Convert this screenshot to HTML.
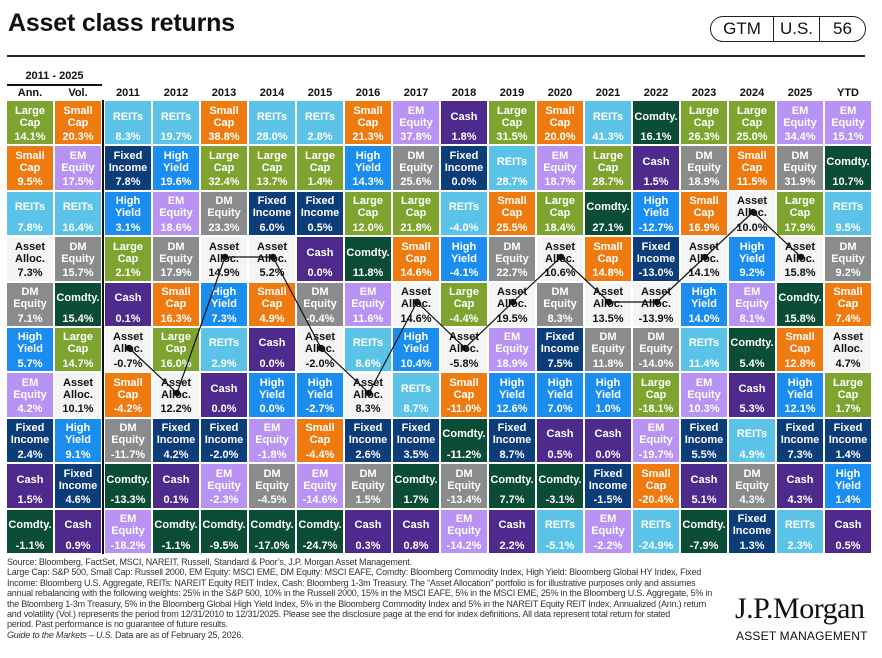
<!DOCTYPE html>
<html><head><meta charset="utf-8"><style>
*{margin:0;padding:0;box-sizing:border-box}
body{width:882px;height:658px;background:#fff;position:relative;overflow:hidden;font-family:"Liberation Sans",Arial,sans-serif;color:#111}
.title{position:absolute;left:8px;top:9px;font-size:25px;font-weight:bold;letter-spacing:-0.2px}
.rule{position:absolute;left:7px;top:55px;width:858px;height:1.5px;background:#222}
.gtm{position:absolute;left:710px;top:16px;width:156px;height:26px;border:1.3px solid #222;border-radius:13px;display:flex;font-size:17px}
.gtm div{display:flex;align-items:center;justify-content:center;height:100%}
.per{position:absolute;left:7px;top:70px;width:95px;text-align:center;font-size:11px;font-weight:bold}
.perl{position:absolute;left:7px;top:84px;width:95px;height:2px;background:#111}
.hdr{position:absolute;top:87px;font-size:11px;font-weight:bold;width:46px;text-align:center}
.vl{position:absolute;left:102px;top:100px;width:2px;height:454px;background:#111}
.g{position:absolute;top:101px;display:grid;grid-auto-flow:column;grid-template-rows:repeat(10,43.4px);grid-template-columns:repeat(var(--n),46px);row-gap:2px;column-gap:2px}
.c{color:#fff;font-size:11px;font-weight:bold;text-align:center;display:flex;flex-direction:column;align-items:center}
.c p{height:30px;display:flex;align-items:center;justify-content:center;line-height:12px;padding-top:1px}
.c span{line-height:12px}
.lc{background:#7ea42f}.sc{background:#ef7a10}.re{background:#5cc3e8}.fi{background:#0b3d7b}.hy{background:#1a8def}.em{background:#b893f3}.dm{background:#8a8b8d}.aa{background:#f4f4f4;color:#111}.ca{background:#4d2a8b}.co{background:#0b4c37}
.foot{position:absolute;left:7px;top:557px;font-size:9px;line-height:10.4px;color:#333;white-space:nowrap;letter-spacing:-0.2px}
.logo{position:absolute;left:735px;top:592px;font-family:"Liberation Serif",serif;font-size:30px;letter-spacing:-0.5px;color:#111}
.am{position:absolute;left:736px;top:629px;font-size:12px;letter-spacing:0.2px;color:#111}
svg{position:absolute;left:0;top:0}
</style></head><body>
<div class="title">Asset class returns</div>
<div class="gtm"><div style="width:63px;border-right:1.3px solid #222">GTM</div><div style="width:46px;border-right:1.3px solid #222">U.S.</div><div style="flex:1">56</div></div>
<div class="rule"></div>
<div class="per">2011 - 2025</div><div class="perl"></div>
<div class="hdr" style="left:7px">Ann.</div><div class="hdr" style="left:55px">Vol.</div>
<div class="hdr" style="left:105px">2011</div><div class="hdr" style="left:153px">2012</div><div class="hdr" style="left:201px">2013</div><div class="hdr" style="left:249px">2014</div><div class="hdr" style="left:297px">2015</div><div class="hdr" style="left:345px">2016</div><div class="hdr" style="left:393px">2017</div><div class="hdr" style="left:441px">2018</div><div class="hdr" style="left:489px">2019</div><div class="hdr" style="left:537px">2020</div><div class="hdr" style="left:585px">2021</div><div class="hdr" style="left:633px">2022</div><div class="hdr" style="left:681px">2023</div><div class="hdr" style="left:729px">2024</div><div class="hdr" style="left:777px">2025</div><div class="hdr" style="left:825px">YTD</div>
<div class="vl"></div>

<div class="g" style="left:7px;--n:2">
<div class="c lc"><p>Large<br>Cap</p><span>14.1%</span></div>
<div class="c sc"><p>Small<br>Cap</p><span>9.5%</span></div>
<div class="c re"><p>REITs</p><span>7.8%</span></div>
<div class="c aa"><p>Asset<br>Alloc.</p><span>7.3%</span></div>
<div class="c dm"><p>DM<br>Equity</p><span>7.1%</span></div>
<div class="c hy"><p>High<br>Yield</p><span>5.7%</span></div>
<div class="c em"><p>EM<br>Equity</p><span>4.2%</span></div>
<div class="c fi"><p>Fixed<br>Income</p><span>2.4%</span></div>
<div class="c ca"><p>Cash</p><span>1.5%</span></div>
<div class="c co"><p>Comdty.</p><span>-1.1%</span></div>

<div class="c sc"><p>Small<br>Cap</p><span>20.3%</span></div>
<div class="c em"><p>EM<br>Equity</p><span>17.5%</span></div>
<div class="c re"><p>REITs</p><span>16.4%</span></div>
<div class="c dm"><p>DM<br>Equity</p><span>15.7%</span></div>
<div class="c co"><p>Comdty.</p><span>15.4%</span></div>
<div class="c lc"><p>Large<br>Cap</p><span>14.7%</span></div>
<div class="c aa"><p>Asset<br>Alloc.</p><span>10.1%</span></div>
<div class="c hy"><p>High<br>Yield</p><span>9.1%</span></div>
<div class="c fi"><p>Fixed<br>Income</p><span>4.6%</span></div>
<div class="c ca"><p>Cash</p><span>0.9%</span></div>
</div>

<div class="g" style="left:105px;--n:16">
<div class="c re"><p>REITs</p><span>8.3%</span></div>
<div class="c fi"><p>Fixed<br>Income</p><span>7.8%</span></div>
<div class="c hy"><p>High<br>Yield</p><span>3.1%</span></div>
<div class="c lc"><p>Large<br>Cap</p><span>2.1%</span></div>
<div class="c ca"><p>Cash</p><span>0.1%</span></div>
<div class="c aa"><p>Asset<br>Alloc.</p><span>-0.7%</span></div>
<div class="c sc"><p>Small<br>Cap</p><span>-4.2%</span></div>
<div class="c dm"><p>DM<br>Equity</p><span>-11.7%</span></div>
<div class="c co"><p>Comdty.</p><span>-13.3%</span></div>
<div class="c em"><p>EM<br>Equity</p><span>-18.2%</span></div>
<div class="c re"><p>REITs</p><span>19.7%</span></div>
<div class="c hy"><p>High<br>Yield</p><span>19.6%</span></div>
<div class="c em"><p>EM<br>Equity</p><span>18.6%</span></div>
<div class="c dm"><p>DM<br>Equity</p><span>17.9%</span></div>
<div class="c sc"><p>Small<br>Cap</p><span>16.3%</span></div>
<div class="c lc"><p>Large<br>Cap</p><span>16.0%</span></div>
<div class="c aa"><p>Asset<br>Alloc.</p><span>12.2%</span></div>
<div class="c fi"><p>Fixed<br>Income</p><span>4.2%</span></div>
<div class="c ca"><p>Cash</p><span>0.1%</span></div>
<div class="c co"><p>Comdty.</p><span>-1.1%</span></div>
<div class="c sc"><p>Small<br>Cap</p><span>38.8%</span></div>
<div class="c lc"><p>Large<br>Cap</p><span>32.4%</span></div>
<div class="c dm"><p>DM<br>Equity</p><span>23.3%</span></div>
<div class="c aa"><p>Asset<br>Alloc.</p><span>14.9%</span></div>
<div class="c hy"><p>High<br>Yield</p><span>7.3%</span></div>
<div class="c re"><p>REITs</p><span>2.9%</span></div>
<div class="c ca"><p>Cash</p><span>0.0%</span></div>
<div class="c fi"><p>Fixed<br>Income</p><span>-2.0%</span></div>
<div class="c em"><p>EM<br>Equity</p><span>-2.3%</span></div>
<div class="c co"><p>Comdty.</p><span>-9.5%</span></div>
<div class="c re"><p>REITs</p><span>28.0%</span></div>
<div class="c lc"><p>Large<br>Cap</p><span>13.7%</span></div>
<div class="c fi"><p>Fixed<br>Income</p><span>6.0%</span></div>
<div class="c aa"><p>Asset<br>Alloc.</p><span>5.2%</span></div>
<div class="c sc"><p>Small<br>Cap</p><span>4.9%</span></div>
<div class="c ca"><p>Cash</p><span>0.0%</span></div>
<div class="c hy"><p>High<br>Yield</p><span>0.0%</span></div>
<div class="c em"><p>EM<br>Equity</p><span>-1.8%</span></div>
<div class="c dm"><p>DM<br>Equity</p><span>-4.5%</span></div>
<div class="c co"><p>Comdty.</p><span>-17.0%</span></div>
<div class="c re"><p>REITs</p><span>2.8%</span></div>
<div class="c lc"><p>Large<br>Cap</p><span>1.4%</span></div>
<div class="c fi"><p>Fixed<br>Income</p><span>0.5%</span></div>
<div class="c ca"><p>Cash</p><span>0.0%</span></div>
<div class="c dm"><p>DM<br>Equity</p><span>-0.4%</span></div>
<div class="c aa"><p>Asset<br>Alloc.</p><span>-2.0%</span></div>
<div class="c hy"><p>High<br>Yield</p><span>-2.7%</span></div>
<div class="c sc"><p>Small<br>Cap</p><span>-4.4%</span></div>
<div class="c em"><p>EM<br>Equity</p><span>-14.6%</span></div>
<div class="c co"><p>Comdty.</p><span>-24.7%</span></div>
<div class="c sc"><p>Small<br>Cap</p><span>21.3%</span></div>
<div class="c hy"><p>High<br>Yield</p><span>14.3%</span></div>
<div class="c lc"><p>Large<br>Cap</p><span>12.0%</span></div>
<div class="c co"><p>Comdty.</p><span>11.8%</span></div>
<div class="c em"><p>EM<br>Equity</p><span>11.6%</span></div>
<div class="c re"><p>REITs</p><span>8.6%</span></div>
<div class="c aa"><p>Asset<br>Alloc.</p><span>8.3%</span></div>
<div class="c fi"><p>Fixed<br>Income</p><span>2.6%</span></div>
<div class="c dm"><p>DM<br>Equity</p><span>1.5%</span></div>
<div class="c ca"><p>Cash</p><span>0.3%</span></div>
<div class="c em"><p>EM<br>Equity</p><span>37.8%</span></div>
<div class="c dm"><p>DM<br>Equity</p><span>25.6%</span></div>
<div class="c lc"><p>Large<br>Cap</p><span>21.8%</span></div>
<div class="c sc"><p>Small<br>Cap</p><span>14.6%</span></div>
<div class="c aa"><p>Asset<br>Alloc.</p><span>14.6%</span></div>
<div class="c hy"><p>High<br>Yield</p><span>10.4%</span></div>
<div class="c re"><p>REITs</p><span>8.7%</span></div>
<div class="c fi"><p>Fixed<br>Income</p><span>3.5%</span></div>
<div class="c co"><p>Comdty.</p><span>1.7%</span></div>
<div class="c ca"><p>Cash</p><span>0.8%</span></div>
<div class="c ca"><p>Cash</p><span>1.8%</span></div>
<div class="c fi"><p>Fixed<br>Income</p><span>0.0%</span></div>
<div class="c re"><p>REITs</p><span>-4.0%</span></div>
<div class="c hy"><p>High<br>Yield</p><span>-4.1%</span></div>
<div class="c lc"><p>Large<br>Cap</p><span>-4.4%</span></div>
<div class="c aa"><p>Asset<br>Alloc.</p><span>-5.8%</span></div>
<div class="c sc"><p>Small<br>Cap</p><span>-11.0%</span></div>
<div class="c co"><p>Comdty.</p><span>-11.2%</span></div>
<div class="c dm"><p>DM<br>Equity</p><span>-13.4%</span></div>
<div class="c em"><p>EM<br>Equity</p><span>-14.2%</span></div>
<div class="c lc"><p>Large<br>Cap</p><span>31.5%</span></div>
<div class="c re"><p>REITs</p><span>28.7%</span></div>
<div class="c sc"><p>Small<br>Cap</p><span>25.5%</span></div>
<div class="c dm"><p>DM<br>Equity</p><span>22.7%</span></div>
<div class="c aa"><p>Asset<br>Alloc.</p><span>19.5%</span></div>
<div class="c em"><p>EM<br>Equity</p><span>18.9%</span></div>
<div class="c hy"><p>High<br>Yield</p><span>12.6%</span></div>
<div class="c fi"><p>Fixed<br>Income</p><span>8.7%</span></div>
<div class="c co"><p>Comdty.</p><span>7.7%</span></div>
<div class="c ca"><p>Cash</p><span>2.2%</span></div>
<div class="c sc"><p>Small<br>Cap</p><span>20.0%</span></div>
<div class="c em"><p>EM<br>Equity</p><span>18.7%</span></div>
<div class="c lc"><p>Large<br>Cap</p><span>18.4%</span></div>
<div class="c aa"><p>Asset<br>Alloc.</p><span>10.6%</span></div>
<div class="c dm"><p>DM<br>Equity</p><span>8.3%</span></div>
<div class="c fi"><p>Fixed<br>Income</p><span>7.5%</span></div>
<div class="c hy"><p>High<br>Yield</p><span>7.0%</span></div>
<div class="c ca"><p>Cash</p><span>0.5%</span></div>
<div class="c co"><p>Comdty.</p><span>-3.1%</span></div>
<div class="c re"><p>REITs</p><span>-5.1%</span></div>
<div class="c re"><p>REITs</p><span>41.3%</span></div>
<div class="c lc"><p>Large<br>Cap</p><span>28.7%</span></div>
<div class="c co"><p>Comdty.</p><span>27.1%</span></div>
<div class="c sc"><p>Small<br>Cap</p><span>14.8%</span></div>
<div class="c aa"><p>Asset<br>Alloc.</p><span>13.5%</span></div>
<div class="c dm"><p>DM<br>Equity</p><span>11.8%</span></div>
<div class="c hy"><p>High<br>Yield</p><span>1.0%</span></div>
<div class="c ca"><p>Cash</p><span>0.0%</span></div>
<div class="c fi"><p>Fixed<br>Income</p><span>-1.5%</span></div>
<div class="c em"><p>EM<br>Equity</p><span>-2.2%</span></div>
<div class="c co"><p>Comdty.</p><span>16.1%</span></div>
<div class="c ca"><p>Cash</p><span>1.5%</span></div>
<div class="c hy"><p>High<br>Yield</p><span>-12.7%</span></div>
<div class="c fi"><p>Fixed<br>Income</p><span>-13.0%</span></div>
<div class="c aa"><p>Asset<br>Alloc.</p><span>-13.9%</span></div>
<div class="c dm"><p>DM<br>Equity</p><span>-14.0%</span></div>
<div class="c lc"><p>Large<br>Cap</p><span>-18.1%</span></div>
<div class="c em"><p>EM<br>Equity</p><span>-19.7%</span></div>
<div class="c sc"><p>Small<br>Cap</p><span>-20.4%</span></div>
<div class="c re"><p>REITs</p><span>-24.9%</span></div>
<div class="c lc"><p>Large<br>Cap</p><span>26.3%</span></div>
<div class="c dm"><p>DM<br>Equity</p><span>18.9%</span></div>
<div class="c sc"><p>Small<br>Cap</p><span>16.9%</span></div>
<div class="c aa"><p>Asset<br>Alloc.</p><span>14.1%</span></div>
<div class="c hy"><p>High<br>Yield</p><span>14.0%</span></div>
<div class="c re"><p>REITs</p><span>11.4%</span></div>
<div class="c em"><p>EM<br>Equity</p><span>10.3%</span></div>
<div class="c fi"><p>Fixed<br>Income</p><span>5.5%</span></div>
<div class="c ca"><p>Cash</p><span>5.1%</span></div>
<div class="c co"><p>Comdty.</p><span>-7.9%</span></div>
<div class="c lc"><p>Large<br>Cap</p><span>25.0%</span></div>
<div class="c sc"><p>Small<br>Cap</p><span>11.5%</span></div>
<div class="c aa"><p>Asset<br>Alloc.</p><span>10.0%</span></div>
<div class="c hy"><p>High<br>Yield</p><span>9.2%</span></div>
<div class="c em"><p>EM<br>Equity</p><span>8.1%</span></div>
<div class="c co"><p>Comdty.</p><span>5.4%</span></div>
<div class="c ca"><p>Cash</p><span>5.3%</span></div>
<div class="c re"><p>REITs</p><span>4.9%</span></div>
<div class="c dm"><p>DM<br>Equity</p><span>4.3%</span></div>
<div class="c fi"><p>Fixed<br>Income</p><span>1.3%</span></div>
<div class="c em"><p>EM<br>Equity</p><span>34.4%</span></div>
<div class="c dm"><p>DM<br>Equity</p><span>31.9%</span></div>
<div class="c lc"><p>Large<br>Cap</p><span>17.9%</span></div>
<div class="c aa"><p>Asset<br>Alloc.</p><span>15.8%</span></div>
<div class="c co"><p>Comdty.</p><span>15.8%</span></div>
<div class="c sc"><p>Small<br>Cap</p><span>12.8%</span></div>
<div class="c hy"><p>High<br>Yield</p><span>12.1%</span></div>
<div class="c fi"><p>Fixed<br>Income</p><span>7.3%</span></div>
<div class="c ca"><p>Cash</p><span>4.3%</span></div>
<div class="c re"><p>REITs</p><span>2.3%</span></div>
<div class="c em"><p>EM<br>Equity</p><span>15.1%</span></div>
<div class="c co"><p>Comdty.</p><span>10.7%</span></div>
<div class="c re"><p>REITs</p><span>9.5%</span></div>
<div class="c dm"><p>DM<br>Equity</p><span>9.2%</span></div>
<div class="c sc"><p>Small<br>Cap</p><span>7.4%</span></div>
<div class="c aa"><p>Asset<br>Alloc.</p><span>4.7%</span></div>
<div class="c lc"><p>Large<br>Cap</p><span>1.7%</span></div>
<div class="c fi"><p>Fixed<br>Income</p><span>1.4%</span></div>
<div class="c hy"><p>High<br>Yield</p><span>1.4%</span></div>
<div class="c ca"><p>Cash</p><span>0.5%</span></div>
</div>

<svg width="882" height="658">
<polyline fill="none" stroke="#111" stroke-width="1.2" points="129,348 177,393 225,257 273,257 321,348 369,393 417,302 465,348 513,302 561,257 609,302 657,302 705,257 753,212 801,257"/>
<g fill="#111">
<circle cx="129" cy="348" r="3.3"/><circle cx="177" cy="393" r="3.3"/><circle cx="225" cy="257" r="3.3"/><circle cx="273" cy="257" r="3.3"/><circle cx="321" cy="348" r="3.3"/><circle cx="369" cy="393" r="3.3"/><circle cx="417" cy="302" r="3.3"/><circle cx="465" cy="348" r="3.3"/><circle cx="513" cy="302" r="3.3"/><circle cx="561" cy="257" r="3.3"/><circle cx="609" cy="302" r="3.3"/><circle cx="657" cy="302" r="3.3"/><circle cx="705" cy="257" r="3.3"/><circle cx="753" cy="212" r="3.3"/><circle cx="801" cy="257" r="3.3"/>
</g>
</svg>

<div class="foot">Source: Bloomberg, FactSet, MSCI, NAREIT, Russell, Standard &amp; Poor’s, J.P. Morgan Asset Management.<br>
Large Cap: S&amp;P 500, Small Cap: Russell 2000, EM Equity: MSCI EME, DM Equity: MSCI EAFE, Comdty: Bloomberg Commodity Index, High Yield: Bloomberg Global HY Index, Fixed<br>
Income: Bloomberg U.S. Aggregate, REITs: NAREIT Equity REIT Index, Cash: Bloomberg 1-3m Treasury. The “Asset Allocation” portfolio is for illustrative purposes only and assumes<br>
annual rebalancing with the following weights: 25% in the S&amp;P 500, 10% in the Russell 2000, 15% in the MSCI EAFE, 5% in the MSCI EME, 25% in the Bloomberg U.S. Aggregate, 5% in<br>
the Bloomberg 1-3m Treasury, 5% in the Bloomberg Global High Yield Index, 5% in the Bloomberg Commodity Index and 5% in the NAREIT Equity REIT Index. Annualized (Ann.) return<br>
and volatility (Vol.) represents the period from 12/31/2010 to 12/31/2025. Please see the disclosure page at the end for index definitions. All data represent total return for stated<br>
period. Past performance is no guarantee of future results.<br>
<i>Guide to the Markets – U.S.</i> Data are as of February 25, 2026.</div>
<div class="logo">J.P.Morgan</div>
<div class="am">ASSET MANAGEMENT</div>
</body></html>
